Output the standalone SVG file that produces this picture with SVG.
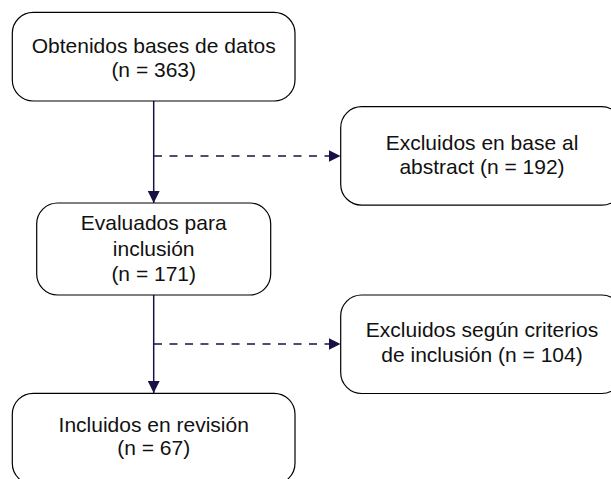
<svg xmlns="http://www.w3.org/2000/svg" width="611" height="479" viewBox="0 0 611 479">
<style>
.box{fill:#fff;stroke:#000;stroke-width:1.2}
.t{font-family:"Liberation Sans",Arial,Helvetica,sans-serif;font-size:21px;fill:#111;text-anchor:middle}
.c{stroke:#1a1046;stroke-width:1.5;fill:none}
.d{stroke-dasharray:8 7.5}
</style>
<defs>
<marker id="ah" viewBox="0 0 12 12" refX="12" refY="6" markerWidth="12" markerHeight="12" markerUnits="userSpaceOnUse" orient="auto">
<path d="M0,0 L12,6 L0,12 Z" fill="#1a1046"/>
</marker>
</defs>
<rect width="611" height="479" fill="#fff"/>
<g id="connectors">
<line class="c" x1="153.7" y1="101" x2="153.7" y2="203" marker-end="url(#ah)"/>
<line class="c d" x1="154" y1="156" x2="340.5" y2="156" marker-end="url(#ah)"/>
<line class="c" x1="153.7" y1="295" x2="153.7" y2="393" marker-end="url(#ah)"/>
<line class="c d" x1="154" y1="344" x2="340.5" y2="344" marker-end="url(#ah)"/>
</g>
<g id="n1">
<rect class="box" x="12.3" y="12.3" width="282.7" height="88.7" rx="21" ry="21"/>
<text class="t" x="153.7" y="53">Obtenidos bases de datos</text>
<text class="t" x="153.7" y="76.5">(n = 363)</text>
</g>
<g id="n2">
<rect class="box" x="36.7" y="203" width="234" height="92" rx="21" ry="21"/>
<text class="t" x="153.7" y="229.5">Evaluados para</text>
<text class="t" x="153.7" y="255.5">inclusión</text>
<text class="t" x="153.7" y="280.5">(n = 171)</text>
</g>
<g id="n3">
<rect class="box" x="340.7" y="106.7" width="282" height="98.5" rx="21" ry="21"/>
<text class="t" x="482" y="149.5">Excluidos en base al</text>
<text class="t" x="482" y="174">abstract (n = 192)</text>
</g>
<g id="n4">
<rect class="box" x="340.7" y="295" width="282" height="98.5" rx="21" ry="21"/>
<text class="t" x="482" y="337">Excluidos según criterios</text>
<text class="t" x="482" y="361.5">de inclusión (n = 104)</text>
</g>
<g id="n5">
<rect class="box" x="12.3" y="393.3" width="282.7" height="91" rx="21" ry="21"/>
<text class="t" x="153.7" y="431.5">Incluidos en revisión</text>
<text class="t" x="153.7" y="454.5">(n = 67)</text>
</g>
</svg>
